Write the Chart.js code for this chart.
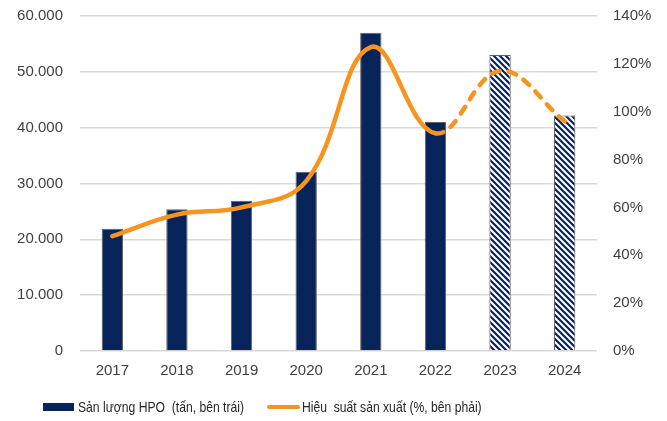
<!DOCTYPE html>
<html>
<head>
<meta charset="utf-8">
<script src="https://cdn.jsdelivr.net/npm/chart.js@4.4.1/dist/chart.umd.min.js"></script>
<style>
  html, body { margin: 0; padding: 0; background: #fff; }
  #wrap { width: 667px; height: 421px; }
</style>
</head>
<body>
<div id="wrap"><canvas id="chart" width="667" height="421"></canvas></div>
<script>
// data
var years = ['2017', '2018', '2019', '2020', '2021', '2022', '2023', '2024'];
var output = [21900, 25400, 26900, 32100, 57000, 41000, 53000, 42200];
var efficiency = [48, 57, 60, 71, 127, 91, 117, 96];
var forecastFrom = 6; // 2023, 2024 are estimates

var navy = '#06245a';
var orange = '#f7941d';

// hatched fill for the forecast bars
function hatch() {
    var c = document.createElement('canvas');
    c.width = 6; c.height = 6;
    var x = c.getContext('2d');
    x.fillStyle = '#fff';
    x.fillRect(0, 0, 6, 6);
    x.strokeStyle = navy;
    x.lineWidth = 2.2;
    x.beginPath();
    x.moveTo(-3, -3); x.lineTo(9, 9);
    x.moveTo(-3, 3); x.lineTo(3, 9);
    x.moveTo(3, -3); x.lineTo(9, 3);
    x.stroke();
    return x.createPattern(c, 'repeat');
}

// legend drawn by hand so the items sit like the original (condensed text, left of centre)
var legendItems = [
    { text: 'Sản lượng HPO  (tấn, bên trái)', kind: 'box', x: 43 },
    { text: 'Hiệu  suất sản xuất (%, bên phải)', kind: 'line', x: 267 }
];
var bottomLegend = {
    id: 'bottomLegend',
    afterDraw: function (chart) {
        var c = chart.ctx;
        var y = chart.height - 14;
        c.save();
        legendItems.forEach(function (it) {
            if (it.kind === 'box') {
                c.fillStyle = navy;
                c.fillRect(it.x, y - 4, 31, 8);
            } else {
                c.strokeStyle = orange;
                c.lineWidth = 4;
                c.lineCap = 'round';
                c.beginPath();
                c.moveTo(it.x + 2, y);
                c.lineTo(it.x + 31, y);
                c.stroke();
            }
            c.save();
            c.translate(it.x + 35, y);
            c.scale(0.81, 1);
            c.font = '15px "Liberation Sans", Arial, sans-serif';
            c.fillStyle = '#262626';
            c.textBaseline = 'middle';
            c.fillText(it.text, 0, 1);
            c.restore();
        });
        c.restore();
    }
};

var ctx = document.getElementById('chart').getContext('2d');
var pattern = hatch();
var barFill = output.map(function (v, i) { return i >= forecastFrom ? pattern : navy; });

Chart.defaults.font.family = '"Liberation Sans", Arial, sans-serif';
Chart.defaults.font.size = 15;
Chart.defaults.color = '#404040';

// the y axes would otherwise push the plot down by label height + tick padding
function fixWidth(w) {
    return function (s) { s.width = w; s.paddingTop = 0; };
}

new Chart(ctx, {
    type: 'bar',
    data: {
        labels: years,
        datasets: [
            {
                type: 'line',
                label: 'Hiệu  suất sản xuất (%, bên phải)',
                data: efficiency,
                yAxisID: 'y2',
                borderColor: orange,
                backgroundColor: orange,
                borderWidth: 4.5,
                tension: 0.4,
                pointRadius: 0,
                borderCapStyle: 'round',
                segment: {
                    borderDash: function (c) { return c.p0DataIndex >= forecastFrom - 1 ? [8, 9] : undefined; }
                },
                order: 0
            },
            {
                label: 'Sản lượng HPO  (tấn, bên trái)',
                data: output,
                yAxisID: 'y',
                backgroundColor: barFill,
                borderColor: '#5f5f5f',
                borderWidth: 1,
                barPercentage: 0.66,
                categoryPercentage: 0.5,
                order: 1
            }
        ]
    },
    plugins: [bottomLegend],
    options: {
        responsive: false,
        animation: false,
        layout: { autoPadding: false, padding: { top: 16, left: 0, right: 0, bottom: 30 } },
        plugins: {
            legend: { display: false },
            tooltip: { enabled: false }
        },
        scales: {
            x: {
                grid: { display: false, drawTicks: false },
                border: { display: false },
                ticks: { padding: 11 }
            },
            y: {
                position: 'left',
                min: 0, max: 60000,
                ticks: {
                    stepSize: 10000,
                    padding: 17,
                    callback: function (v) { return v.toLocaleString('de-DE'); }
                },
                grid: { color: '#d9d9d9', lineWidth: 1.5, drawTicks: false },
                border: { display: false },
                afterFit: fixWidth(80)
            },
            y2: {
                position: 'right',
                min: 0, max: 140,
                ticks: {
                    stepSize: 20,
                    padding: 16,
                    callback: function (v) { return v + '%'; }
                },
                grid: { display: false, drawTicks: false },
                border: { display: false },
                afterFit: fixWidth(70)
            }
        }
    }
});
</script>
</body>
</html>
